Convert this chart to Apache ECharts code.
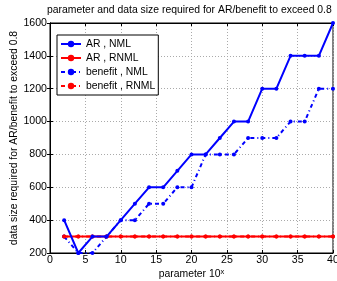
<!DOCTYPE html>
<html>
<head>
<meta charset="utf-8">
<script src="https://cdn.jsdelivr.net/npm/echarts@6/dist/echarts.min.js"></script>
<style>
html, body { margin: 0; padding: 0; background: #fff; }
#chart { width: 337px; height: 281px; }
</style>
</head>
<body>
<div id="chart"></div>
<script>
var xs = [2, 4, 6, 8, 10, 12, 14, 16, 18, 20, 22, 24, 26, 28, 30, 32, 34, 36, 38, 40];
var arNml = [400, 200, 300, 300, 400, 500, 600, 600, 700, 800, 800, 900, 1000, 1000, 1200, 1200, 1400, 1400, 1400, 1600];
var arRnml = [300, 300, 300, 300, 300, 300, 300, 300, 300, 300, 300, 300, 300, 300, 300, 300, 300, 300, 300, 300];
var benNml = [300, 200, 200, 300, 400, 400, 500, 500, 600, 600, 800, 800, 800, 900, 900, 900, 1000, 1000, 1200, 1200];
var benRnml = [300, 300, 300, 300, 300, 300, 300, 300, 300, 300, 300, 300, 300, 300, 300, 300, 300, 300, 300, 300];
var seriesNames = ['AR , NML', 'AR , RNML', 'benefit , NML', 'benefit , RNML'];

var font = 'Liberation Sans, Arial, sans-serif';
var chart = echarts.init(document.getElementById('chart'));

function pairs(ys) {
    return xs.map(function (x, i) { return [x, ys[i]]; });
}

function line(name, ys, color, dash, z) {
    return {
        name: name,
        type: 'line',
        data: pairs(ys),
        symbol: 'circle',
        symbolSize: 4,
        z: z,
        itemStyle: { color: color },
        lineStyle: { color: color, width: 2, type: dash },
        animation: false
    };
}

var dashDot = [4, 3, 1, 3];

chart.setOption({
    textStyle: { fontFamily: font },
    title: {
        text: 'parameter and data size required for AR/benefit to exceed 0.8',
        left: 47,
        top: 5,
        padding: 0,
        textStyle: { fontSize: 10.4, fontWeight: 'normal', color: '#000', fontFamily: font }
    },
    legend: {
        data: seriesNames,
        orient: 'vertical',
        left: 57,
        top: 35,
        itemWidth: 20,
        itemHeight: 8,
        itemGap: 4,
        padding: [4, 3, 4, 3],
        borderColor: '#000',
        borderWidth: 1,
        backgroundColor: '#fff',
        textStyle: { fontSize: 10.4, color: '#000', fontFamily: font }
    },
    grid: {
        left: 50, right: 4, top: 23, bottom: 28,
        outerBoundsMode: 'none',
        containLabel: false,
        show: true, borderColor: '#000', borderWidth: 1
    },
    xAxis: [{
        type: 'value',
        min: 0, max: 40, interval: 5,
        name: 'parameter 10{sup|x}',
        nameLocation: 'middle',
        nameGap: 15,
        nameMoveOverlap: false,
        nameTextStyle: {
            fontSize: 10.4, color: '#000', fontFamily: font,
            rich: { sup: { fontSize: 7.5, verticalAlign: 'top', padding: [0, 0, 5, 0], fontFamily: font } }
        },
        axisLine: { lineStyle: { color: '#000' } },
        axisTick: { inside: true, length: 3, lineStyle: { color: '#000' } },
        axisLabel: { fontSize: 10.6, color: '#000', margin: 2, fontFamily: font },
        splitLine: { show: true, lineStyle: { color: '#aaa', type: [1, 2] } }
    }, {
        type: 'value', position: 'top',
        min: 0, max: 40, interval: 5,
        axisLine: { lineStyle: { color: '#000' } },
        axisTick: { inside: true, length: 3, lineStyle: { color: '#000' } },
        axisLabel: { show: false },
        splitLine: { show: false }
    }],
    yAxis: [{
        type: 'value',
        min: 200, max: 1600, interval: 200,
        name: 'data size required for AR/benefit to exceed 0.8',
        nameLocation: 'middle',
        nameGap: 31,
        nameMoveOverlap: false,
        nameTextStyle: { fontSize: 10.4, color: '#000', fontFamily: font },
        axisLine: { show: true, lineStyle: { color: '#000' } },
        axisTick: { show: true, inside: true, length: 3, lineStyle: { color: '#000' } },
        axisLabel: { fontSize: 10.6, color: '#000', margin: 3, fontFamily: font, formatter: function (v) { return String(v); } },
        splitLine: { show: true, lineStyle: { color: '#aaa', type: [1, 2] } }
    }, {
        type: 'value', position: 'right',
        min: 200, max: 1600, interval: 200,
        axisLine: { show: true, lineStyle: { color: '#000' } },
        axisTick: { show: true, inside: true, length: 3, lineStyle: { color: '#000' } },
        axisLabel: { show: false },
        splitLine: { show: false }
    }],
    series: [
        line(seriesNames[0], arNml, '#0000ff', 'solid', 5),
        line(seriesNames[1], arRnml, '#ff0000', 'solid', 4),
        line(seriesNames[2], benNml, '#0000ff', dashDot, 3),
        line(seriesNames[3], benRnml, '#ff0000', dashDot, 2)
    ]
});
</script>
</body>
</html>
